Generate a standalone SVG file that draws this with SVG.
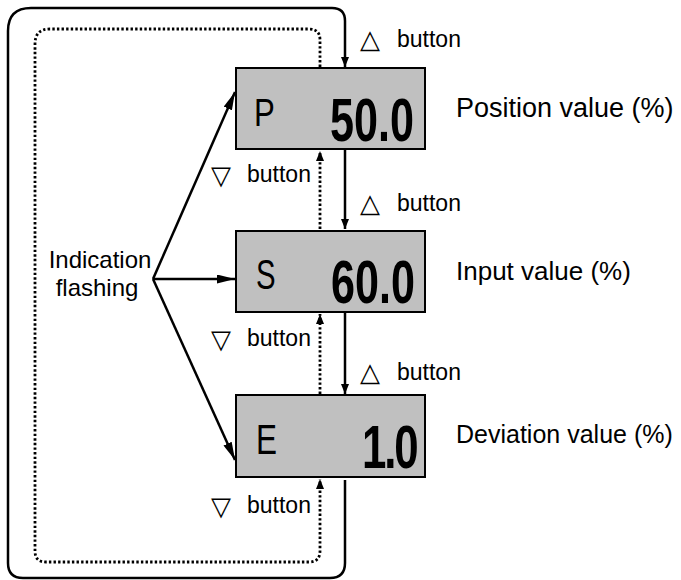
<svg xmlns="http://www.w3.org/2000/svg" width="681" height="580" viewBox="0 0 681 580">
<style>
.box{fill:#c0c0c0;stroke:#000;stroke-width:2}
.solid{fill:none;stroke:#000;stroke-width:2.5}
.dot{fill:none;stroke:#000;stroke-width:2.8;stroke-dasharray:2.4 2.2}
.lbl{font-family:"Liberation Sans",Arial,sans-serif;fill:#000}
.tri{font-family:"DejaVu Sans",sans-serif;fill:#000;font-size:26px}
.let{font-family:"Liberation Sans",Arial,sans-serif;fill:#000;font-size:40px}
.dig{font-family:"Liberation Sans",Arial,sans-serif;fill:#000;font-size:61px;font-weight:bold}
</style>
<defs>
<marker id="ah" viewBox="0 0 10 8" refX="10" refY="4" markerWidth="10" markerHeight="8" markerUnits="userSpaceOnUse" orient="auto">
<path d="M0,0 L10,4 L0,8 z" fill="#000"/>
</marker>
<marker id="ahl" viewBox="0 0 18 9" refX="18" refY="4.5" markerWidth="18" markerHeight="9" markerUnits="userSpaceOnUse" orient="auto">
<path d="M0,0 L18,4.5 L0,9 z" fill="#000"/>
</marker>
</defs>
<g id="connectors">
<path class="solid" d="M345,480 V563 Q345,578 330,578 H23 Q8,578 8,563 V31 Q8,8 31,8 H332 Q345,8 345,21 V67" marker-end="url(#ah)"/>
<path class="dot" d="M320,67 V40 Q320,29 309,29 H50 Q35,29 35,44 V551 Q35,562 46,562 H309 Q320,562 320,551 V479" marker-end="url(#ah)"/>
<path class="solid" d="M345,150 V229" marker-end="url(#ah)"/>
<path class="solid" d="M345,313 V394" marker-end="url(#ah)"/>
<path class="dot" d="M320,229 V151" marker-end="url(#ah)"/>
<path class="dot" d="M320,394 V314" marker-end="url(#ah)"/>
<path class="solid" d="M153,279 L235,92" marker-end="url(#ahl)"/>
<path class="solid" d="M153,279 H235" marker-end="url(#ahl)"/>
<path class="solid" d="M153,279 L235,460" marker-end="url(#ahl)"/>
</g>
<g id="node-position">
<rect class="box" x="236" y="68" width="189" height="81"/>
<text class="let" transform="translate(254,126) scale(0.8,1)" style="font-size:39px">P</text>
<text class="dig" transform="translate(330,141) scale(0.707,1)">50.0</text>
</g>
<g id="node-input">
<rect class="box" x="236" y="231" width="189" height="81"/>
<text class="let" transform="translate(256,289) scale(0.7,1)" style="font-size:42px">S</text>
<text class="dig" transform="translate(331,303) scale(0.707,1)">60.0</text>
</g>
<g id="node-deviation">
<rect class="box" x="236" y="395" width="189" height="82"/>
<text class="let" transform="translate(256,454) scale(0.75,1)" style="font-size:42px">E</text>
<text class="dig" transform="translate(362,468) scale(0.707,1)" style="font-size:62px;letter-spacing:-3px">1.0</text>
</g>
<g id="labels">
<text class="lbl" x="456" y="117" font-size="27">Position value (%)</text>
<text class="lbl" x="456" y="280" font-size="26">Input value (%)</text>
<text class="lbl" x="456" y="443" font-size="25">Deviation value (%)</text>
<text class="lbl" font-size="24" text-anchor="middle"><tspan x="100" y="268">Indication</tspan><tspan x="97" y="296">flashing</tspan></text>
<text class="tri" x="360" y="48">△</text>
<text class="lbl" x="397" y="47" font-size="23">button</text>
<text class="tri" x="360" y="212">△</text>
<text class="lbl" x="397" y="211" font-size="23">button</text>
<text class="tri" x="360" y="381">△</text>
<text class="lbl" x="397" y="380" font-size="23">button</text>
<text class="tri" x="211" y="184">▽</text>
<text class="lbl" x="247" y="182" font-size="23">button</text>
<text class="tri" x="211" y="348">▽</text>
<text class="lbl" x="247" y="346" font-size="23">button</text>
<text class="tri" x="211" y="515">▽</text>
<text class="lbl" x="247" y="513" font-size="23">button</text>
</g>
</svg>
